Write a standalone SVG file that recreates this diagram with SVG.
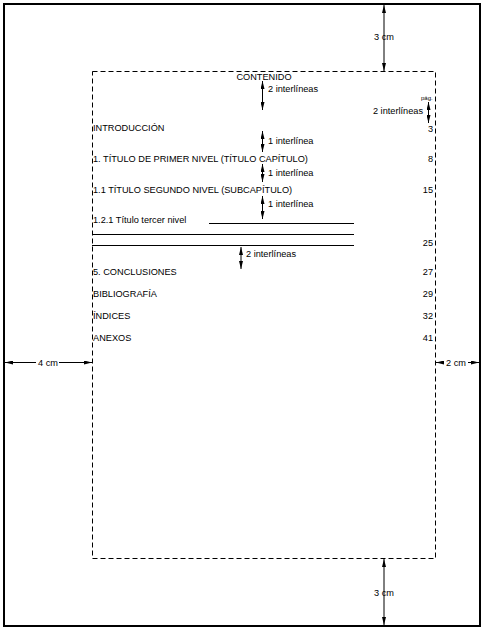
<svg xmlns="http://www.w3.org/2000/svg" width="484" height="631" viewBox="0 0 484 631">
<style>
text{font-family:"Liberation Sans",Arial,sans-serif;font-size:9.2px;fill:#000}
.r{text-anchor:end}
.m{text-anchor:middle}
.ln{stroke:#000;stroke-width:1;fill:none}
.ar{stroke:#000;stroke-width:1;fill:none;marker-start:url(#ah);marker-end:url(#ah)}
</style>
<defs>
<marker id="ah" viewBox="0 0 8 4" refX="8" refY="2" markerWidth="8" markerHeight="4" markerUnits="userSpaceOnUse" orient="auto-start-reverse">
<path d="M0,0 L8,2 L0,4 z" fill="#000"/>
</marker>
</defs>
<rect width="484" height="631" fill="#fff"/>
<g id="page">
<rect x="4" y="4" width="476" height="622" fill="none" stroke="#000" stroke-width="2"/>
</g>
<g id="text-area">
<rect x="92.5" y="71.5" width="343" height="487" fill="none" stroke="#000" stroke-width="1" stroke-dasharray="5,3"/>
</g>
<g id="connectors">
<line class="ar" x1="384" y1="5" x2="384" y2="71"/>
<line class="ar" x1="384" y1="559" x2="384" y2="625"/>
<line class="ln" x1="5" y1="362.5" x2="36" y2="362.5" marker-start="url(#ah)"/>
<line class="ln" x1="59" y1="362.5" x2="92" y2="362.5" marker-end="url(#ah)"/>
<line class="ln" x1="436" y1="362.5" x2="444" y2="362.5" marker-start="url(#ah)"/>
<line class="ln" x1="468" y1="362.5" x2="479" y2="362.5" marker-end="url(#ah)"/>
<line class="ar" x1="262.5" y1="81" x2="262.5" y2="110"/>
<line class="ar" x1="428.5" y1="102" x2="428.5" y2="123"/>
<line class="ar" x1="262.5" y1="131" x2="262.5" y2="152"/>
<line class="ar" x1="262.5" y1="164" x2="262.5" y2="182"/>
<line class="ar" x1="262.5" y1="196" x2="262.5" y2="219"/>
<line class="ar" x1="241" y1="247" x2="241" y2="269"/>
<line class="ln" x1="209" y1="223.5" x2="354" y2="223.5"/>
<line class="ln" x1="92" y1="234.5" x2="354" y2="234.5"/>
<line class="ln" x1="92" y1="245.5" x2="354" y2="245.5"/>
</g>
<g id="labels">
<text class="m" x="384" y="40">3 cm</text>
<text class="m" x="384" y="596">3 cm</text>
<text class="m" x="48" y="366">4 cm</text>
<text class="m" x="456" y="366">2 cm</text>
<text class="m" x="264" y="80">CONTENIDO</text>
<text x="268" y="92">2 interlíneas</text>
<text x="421" y="100" style="font-size:6px">pág.</text>
<text class="r" x="423" y="114">2 interlíneas</text>
<text x="268" y="144">1 interlínea</text>
<text x="268" y="176">1 interlínea</text>
<text x="268" y="207">1 interlínea</text>
<text x="246" y="257">2 interlíneas</text>
</g>
<g id="entries">
<text x="93" y="131">INTRODUCCIÓN</text><text class="r" x="433" y="132">3</text>
<text x="93" y="162">1. TÍTULO DE PRIMER NIVEL (TÍTULO CAPÍTULO)</text><text class="r" x="433" y="162">8</text>
<text x="93" y="193">1.1 TÍTULO SEGUNDO NIVEL (SUBCAPÍTULO)</text><text class="r" x="433" y="193">15</text>
<text x="93" y="223">1.2.1 Título tercer nivel</text>
<text class="r" x="433" y="246">25</text>
<text x="93" y="275">5. CONCLUSIONES</text><text class="r" x="433" y="275">27</text>
<text x="93" y="297">BIBLIOGRAFÍA</text><text class="r" x="433" y="297">29</text>
<text x="93" y="319">ÍNDICES</text><text class="r" x="433" y="319">32</text>
<text x="93" y="341">ANEXOS</text><text class="r" x="433" y="341">41</text>
</g>
</svg>
